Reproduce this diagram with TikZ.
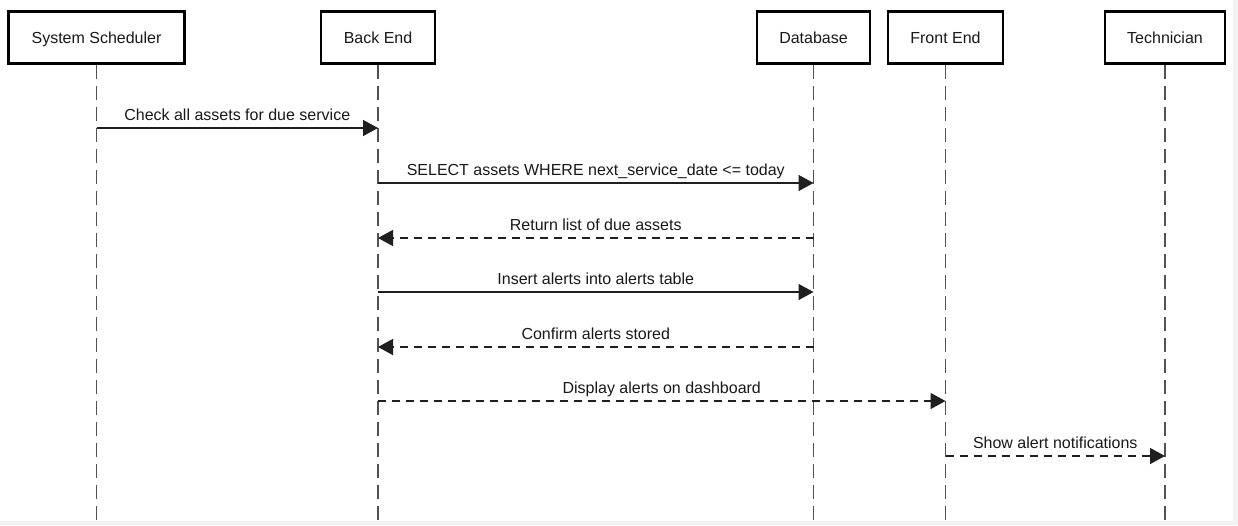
\documentclass[tikz,border=0pt]{standalone}
\usepackage{fontspec}
\setmainfont{Liberation Sans}
\usetikzlibrary{arrows.meta}
\begin{document}
\begin{tikzpicture}[x=1pt,y=-1pt,
  txt/.style={font=\fontsize{16}{19}\selectfont, text=black!90},
  actor/.style={txt, draw=black, line width=2.5pt, fill=white,
    minimum height=52pt, inner sep=0pt, text height=11.5pt, text depth=0pt},
  lifeline/.style={draw=black!68, line width=1.5pt, dash pattern=on 14pt off 7pt},
  msg/.style={draw=black!88, line width=1.4pt, -{Triangle[length=15pt,width=16pt]}},
  reply/.style={msg, dash pattern=on 8pt off 6pt},
  lbl/.style={txt, anchor=base, inner sep=0pt, yshift=8pt}
]
\useasboundingbox (0,0) rectangle (1238,525);
\fill[white] (0,0) rectangle (1238,525);
% thin grey frame on the right and bottom edges
\fill[black!5] (1233,0) rectangle (1238,525);
\fill[black!5] (0,521) rectangle (1238,525);

% participants
\node[actor, minimum width=176pt] (ss)   at (96.5,37.5)  {System Scheduler};
\node[actor, minimum width=114pt] (be)   at (378,37.5)   {Back End};
\node[actor, minimum width=113pt] (db)   at (813.5,37.5) {Database};
\node[actor, minimum width=115pt] (fe)   at (945.5,37.5) {Front End};
\node[actor, minimum width=120pt] (tech) at (1165,37.5)  {Technician};
\coordinate (end) at (0,521);

% lifelines
\foreach \p in {ss,be,db,fe,tech}
  \draw[lifeline] (\p.south) -- (\p.south |- end);

% messages
\draw[msg]   (ss |- 0,128) -- (be |- 0,128)
  node[midway, lbl] {Check all assets for due service};
\draw[msg]   (be |- 0,183) -- (db |- 0,183)
  node[midway, lbl] {SELECT assets WHERE next\_service\_date <= today};
\draw[reply] (db |- 0,238) -- (be |- 0,238)
  node[midway, lbl] {Return list of due assets};
\draw[msg]   (be |- 0,292) -- (db |- 0,292)
  node[midway, lbl] {Insert alerts into alerts table};
\draw[reply] (db |- 0,347) -- (be |- 0,347)
  node[midway, lbl] {Confirm alerts stored};
\draw[reply] (be |- 0,401) -- (fe |- 0,401)
  node[midway, lbl] {Display alerts on dashboard};
\draw[reply] (fe |- 0,456) -- (tech |- 0,456)
  node[midway, lbl] {Show alert notifications};
\end{tikzpicture}
\end{document}
